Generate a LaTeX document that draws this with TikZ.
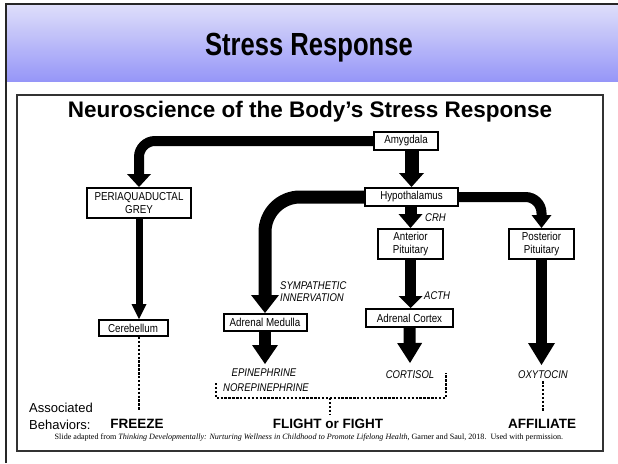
\documentclass[tikz,border=0pt]{standalone}
\usepackage{fontspec}
\setmainfont{Liberation Sans}
\newfontfamily\narrowfont[FakeStretch=0.85]{Liberation Sans}
\newfontfamily\titlefont[FakeStretch=0.8]{Liberation Sans}
\newfontfamily\footfont{Liberation Serif}
\usetikzlibrary{arrows.meta}
\definecolor{hdrtop}{RGB}{222,222,250}
\definecolor{hdrbot}{RGB}{150,150,248}
\begin{document}
\begin{tikzpicture}[x=1pt,y=-1pt,
  box/.style={draw=black, line width=2pt, fill=white, inner sep=0pt, align=center,
              font=\narrowfont\fontsize{11.5}{13.5}\selectfont},
  flow/.style n args={3}{draw=black, line width=#1,
              -{Triangle[width=#2,length=#3,line width=0pt]}},
  dots/.style={draw=black, line width=2.8pt, dash pattern=on 2.4pt off 1.5pt},
  tag/.style={inner sep=0pt, font=\narrowfont\itshape\fontsize{11.2}{12}\selectfont},
  behaviour/.style={inner sep=0pt, font=\bfseries\fontsize{13.5}{15}\selectfont}]
\useasboundingbox (0,0) rectangle (618,463);

% slide header and frame
\shade[top color=hdrtop, bottom color=hdrbot] (6,5) rectangle (618,81);
\draw[line width=2pt, black!85] (6,463) -- (6,4) -- (618,4);
\node[font=\titlefont\bfseries\fontsize{32}{32}\selectfont] (title) at (309,48) {Stress Response};

% diagram panel
\draw[line width=1.5pt, black!80, fill=white] (17,95) rectangle (603,451);
\node[font=\bfseries\fontsize{22.5}{24}\selectfont] (heading) at (310,112)
  {Neuroscience of the Body’s Stress Response};

% brain and gland boxes
\node[box, minimum width=64pt, minimum height=18pt] (amy) at (406,141) {Amygdala};
\node[box, minimum width=93pt, minimum height=18pt] (hyp) at (411.5,197) {Hypothalamus};
\node[box, minimum width=104pt, minimum height=30pt] (pag) at (139,203) {PERIAQUADUCTAL\\GREY};
\node[box, minimum width=65pt, minimum height=30pt] (ant) at (410.5,244) {Anterior\\Pituitary};
\node[box, minimum width=65pt, minimum height=30pt] (post) at (541.5,244) {Posterior\\Pituitary};
\node[box, minimum width=69pt, minimum height=16pt] (cer) at (133,328) {Cerebellum};
\node[box, minimum width=83pt, minimum height=17pt] (med) at (265,322.5) {Adrenal Medulla};
\node[box, minimum width=87pt, minimum height=18pt] (cor) at (409.5,318) {Adrenal Cortex};

% hormone and pathway labels
\node[tag, anchor=west] (crh) at (425,218) {CRH};
\node[tag, anchor=west] (acth) at (424,296) {ACTH};
\node[tag, anchor=west, align=left] (symp) at (280,292) {SYMPATHETIC\\INNERVATION};
\node[tag] (epi) at (264,373) {EPINEPHRINE};
\node[tag] (norepi) at (266,388) {NOREPINEPHRINE};
\node[tag] (cort) at (410,375) {CORTISOL};
\node[tag] (oxy) at (543,375) {OXYTOCIN};

% arrow ends above the hormone names
\coordinate (medout) at (265,364);
\coordinate (corout) at (410,363);
\coordinate (postout) at (541.5,365);

% pathways
\draw[flow={10pt}{24pt}{13pt}, rounded corners=16pt] (amy.west) -| (pag.north);
\draw[flow={7pt}{15pt}{15pt}] (pag.south) -- (pag.south |- cer.north);
\draw[flow={14pt}{25pt}{14pt}] (hyp.north |- amy.south) -- (hyp.north);
\draw[flow={13pt}{28pt}{18pt}, rounded corners=35pt] (hyp.west) -| (med.north);
\draw[flow={12pt}{24pt}{14pt}] (hyp.south -| ant.north) -- (ant.north);
\draw[flow={10pt}{20pt}{13pt}, rounded corners=16pt] (hyp.east) -| (post.north);
\draw[flow={11pt}{24pt}{12pt}] (ant.south) -- (ant.south |- cor.north);
\draw[flow={12pt}{26pt}{19pt}] (med.south) -- (medout);
\draw[flow={12pt}{25pt}{20pt}] (cor.south) -- (corout);
\draw[flow={11pt}{27pt}{22pt}] (post.south) -- (postout);

% associated behaviours
\node[anchor=west, align=left, inner sep=0pt, font=\fontsize{13}{17}\selectfont] (assoc) at (29,416)
  {Associated\\Behaviors:};
\node[behaviour] (freeze) at (137,424) {FREEZE};
\node[behaviour] (flight) at (328,424) {FLIGHT or FIGHT};
\node[behaviour] (affil) at (542,424) {AFFILIATE};

% dotted links to behaviours
\coordinate (freezetop) at (139,410);
\coordinate (bl) at (216,383);
\coordinate (blc) at (216,398);
\coordinate (brc) at (446,398);
\coordinate (br) at (446,373);
\coordinate (bmid) at (330,398);
\coordinate (flighttop) at (330,415);
\coordinate (affiltop) at (543,412);
\draw[dots] (cer.south -| pag.south) -- (freezetop);
\draw[dots] (bl) -- (blc) -- (brc) -- (br);
\draw[dots] (bmid) -- (flighttop);
\draw[dots] (oxy.south) ++(0,2) -- (affiltop);

% credit line
\node[font=\footfont\fontsize{8.1}{9}\selectfont, inner sep=0pt] (credit) at (309,438)
  {Slide adapted from \textit{Thinking Developmentally: Nurturing Wellness in Childhood to Promote Lifelong Health}, Garner and Saul, 2018.~~Used with permission.};
\end{tikzpicture}
\end{document}
